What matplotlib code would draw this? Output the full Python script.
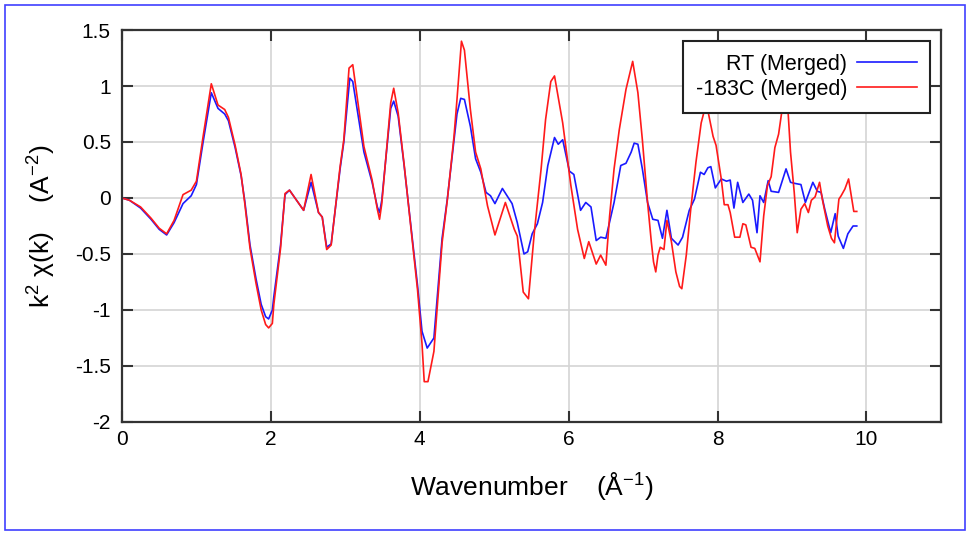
import matplotlib
matplotlib.use("Agg")
import matplotlib.pyplot as plt
from matplotlib.patches import Rectangle

plt.rcParams['font.family'] = ['Liberation Sans', 'DejaVu Sans']
plt.rcParams['mathtext.fontset'] = 'custom'
plt.rcParams['mathtext.rm'] = 'Liberation Sans'
plt.rcParams['mathtext.it'] = 'Liberation Sans'
plt.rcParams['axes.unicode_minus'] = False

# RT (Merged) - blue curve
rt_k = [0.00, 0.10, 0.25, 0.39, 0.50, 0.60, 0.70, 0.82, 0.93, 1.00,
        1.09, 1.20, 1.29, 1.38, 1.43, 1.52, 1.60, 1.65, 1.72, 1.80,
        1.87, 1.93, 1.97, 2.02, 2.04, 2.13, 2.19, 2.25, 2.44, 2.54,
        2.64, 2.69, 2.75, 2.81, 2.93, 2.98, 3.06, 3.10, 3.25, 3.36,
        3.43, 3.46, 3.49, 3.61, 3.65, 3.71, 3.79, 3.90, 3.97, 4.03,
        4.10, 4.19, 4.30, 4.37, 4.46, 4.50, 4.55, 4.60, 4.68, 4.75,
        4.82, 4.89, 4.95, 5.01, 5.11, 5.24, 5.31, 5.40, 5.45, 5.51,
        5.58, 5.65, 5.72, 5.81, 5.86, 5.92, 6.01, 6.07, 6.16, 6.23,
        6.30, 6.37, 6.43, 6.50, 6.61, 6.70, 6.77, 6.84, 6.88, 6.93,
        6.99, 7.06, 7.13, 7.20, 7.26, 7.32, 7.38, 7.47, 7.53, 7.62,
        7.69, 7.77, 7.82, 7.87, 7.91, 7.97, 8.05, 8.12, 8.17, 8.22,
        8.27, 8.34, 8.42, 8.47, 8.53, 8.57, 8.62, 8.68, 8.72, 8.82,
        8.92, 8.98, 9.04, 9.12, 9.18, 9.28, 9.34, 9.39, 9.44, 9.52,
        9.58, 9.62, 9.69, 9.75, 9.82, 9.87]
rt_chi = [0.00, -0.02, -0.09, -0.19, -0.28, -0.33, -0.22, -0.05, 0.02, 0.12,
          0.50, 0.94, 0.80, 0.75, 0.69, 0.45, 0.20, -0.03, -0.42, -0.72,
          -0.95, -1.06, -1.08, -1.00, -0.88, -0.42, 0.03, 0.07, -0.11, 0.14,
          -0.13, -0.17, -0.44, -0.41, 0.26, 0.50, 1.07, 1.04, 0.41, 0.14,
          -0.08, -0.13, -0.02, 0.80, 0.865, 0.73, 0.29, -0.36, -0.78, -1.19,
          -1.34, -1.25, -0.36, -0.01, 0.52, 0.75, 0.89, 0.88, 0.64, 0.35,
          0.23, 0.05, 0.02, -0.05, 0.085, -0.05, -0.22, -0.50, -0.48, -0.32,
          -0.23, -0.04, 0.29, 0.54, 0.48, 0.52, 0.24, 0.21, -0.11, -0.04,
          -0.08, -0.38, -0.35, -0.36, -0.04, 0.29, 0.31, 0.41, 0.49, 0.48,
          0.26, -0.04, -0.19, -0.20, -0.36, -0.11, -0.36, -0.42, -0.35, -0.11,
          -0.01, 0.23, 0.21, 0.27, 0.28, 0.09, 0.17, 0.15, 0.16, -0.09,
          0.14, -0.04, 0.035, -0.02, -0.31, 0.02, -0.04, 0.155, 0.06, 0.05,
          0.26, 0.14, 0.13, 0.12, -0.04, 0.14, 0.06, 0.05, -0.10, -0.31,
          -0.14, -0.34, -0.45, -0.32, -0.25, -0.25]

# -183C (Merged) - red curve
lt_k = [0.00, 0.10, 0.25, 0.39, 0.50, 0.60, 0.70, 0.82, 0.93, 1.00,
        1.09, 1.20, 1.29, 1.38, 1.43, 1.52, 1.60, 1.65, 1.72, 1.80,
        1.87, 1.93, 1.97, 2.02, 2.04, 2.13, 2.19, 2.25, 2.44, 2.54,
        2.64, 2.69, 2.75, 2.81, 2.93, 2.98, 3.05, 3.10, 3.25, 3.36,
        3.43, 3.46, 3.49, 3.61, 3.65, 3.71, 3.79, 3.90, 3.97, 4.03,
        4.06, 4.11, 4.19, 4.30, 4.37, 4.46, 4.50, 4.56, 4.60, 4.68,
        4.75, 4.82, 4.91, 5.01, 5.15, 5.27, 5.31, 5.39, 5.46, 5.54,
        5.63, 5.69, 5.76, 5.81, 5.92, 6.03, 6.12, 6.21, 6.27, 6.37,
        6.43, 6.50, 6.55, 6.61, 6.68, 6.77, 6.86, 6.93, 6.99, 7.06,
        7.11, 7.14, 7.17, 7.20, 7.23, 7.28, 7.32, 7.38, 7.44, 7.49,
        7.52, 7.58, 7.64, 7.71, 7.78, 7.83, 7.87, 7.94, 7.98, 8.05,
        8.09, 8.14, 8.17, 8.23, 8.30, 8.34, 8.38, 8.45, 8.50, 8.57,
        8.62, 8.67, 8.72, 8.77, 8.82, 8.88, 8.90, 8.94, 8.98, 9.03,
        9.07, 9.12, 9.17, 9.22, 9.26, 9.31, 9.37, 9.41, 9.48, 9.53,
        9.57, 9.63, 9.66, 9.71, 9.76, 9.83, 9.87]
lt_chi = [0.00, -0.02, -0.08, -0.18, -0.27, -0.32, -0.20, 0.03, 0.07, 0.15,
          0.55, 1.02, 0.83, 0.79, 0.72, 0.47, 0.21, -0.05, -0.45, -0.76,
          -1.00, -1.13, -1.16, -1.12, -0.95, -0.45, 0.04, 0.07, -0.11, 0.21,
          -0.13, -0.17, -0.46, -0.42, 0.28, 0.52, 1.16, 1.19, 0.46, 0.16,
          -0.10, -0.19, -0.05, 0.85, 0.98, 0.76, 0.30, -0.38, -0.82, -1.30,
          -1.64, -1.64, -1.37, -0.40, -0.02, 0.55, 0.88, 1.40, 1.32, 0.79,
          0.41, 0.26, -0.07, -0.33, -0.04, -0.28, -0.34, -0.84, -0.90, -0.30,
          0.26, 0.70, 1.04, 1.09, 0.67, 0.11, -0.28, -0.54, -0.39, -0.59,
          -0.51, -0.60, -0.16, 0.26, 0.61, 0.97, 1.22, 0.94, 0.52, -0.04,
          -0.39, -0.57, -0.66, -0.51, -0.44, -0.46, -0.20, -0.39, -0.66, -0.79,
          -0.81, -0.51, -0.10, 0.32, 0.67, 0.80, 0.78, 0.55, 0.47, 0.17,
          -0.06, -0.06, -0.13, -0.35, -0.35, -0.23, -0.24, -0.44, -0.45, -0.57,
          -0.16, 0.11, 0.19, 0.45, 0.57, 0.85, 0.87, 0.85, 0.41, 0.05,
          -0.31, -0.10, -0.05, -0.13, -0.02, 0.01, 0.14, -0.02, -0.25, -0.36,
          -0.40, -0.01, 0.02, 0.08, 0.17, -0.12, -0.12]

x_ticks = [0, 2, 4, 6, 8, 10]
y_ticks = [-2, -1.5, -1, -0.5, 0, 0.5, 1, 1.5]
y_tick_labels = ["-2", "-1.5", "-1", "-0.5", "0", "0.5", "1", "1.5"]

fig = plt.figure(figsize=(9.68, 5.33), dpi=100)
ax = fig.add_axes([0.126, 0.2083, 0.846, 0.7354])

ax.plot(rt_k, rt_chi, color='#1a1aff', lw=1.2, label='RT (Merged)')
ax.plot(lt_k, lt_chi, color='#ff1a1a', lw=1.2, label='-183C (Merged)')

ax.set_xlim(0, 11)
ax.set_ylim(-2, 1.5)
ax.set_xticks(x_ticks)
ax.set_yticks(y_ticks)
ax.set_yticklabels(y_tick_labels)
ax.grid(True, color='#d4d4d4', lw=1.2)
ax.set_axisbelow(True)
ax.tick_params(direction='in', length=8, width=1.5, color='#333333',
               top=True, right=True, labelsize=15)
ax.tick_params(axis='y', pad=8)
ax.tick_params(axis='x', pad=6)
for s in ax.spines.values():
    s.set_linewidth(1.6)
    s.set_color('#333333')

ax.set_xlabel("Wavenumber    (Å$^{-1}$)", fontsize=19, labelpad=15)
ax.set_ylabel("k$^2$ χ(k)    (A$^{-2}$)", fontsize=19, labelpad=12)

leg = ax.legend(loc='upper right', markerfirst=False, fontsize=15.5,
                handlelength=2.8, handletextpad=0.45, borderpad=0.6,
                labelspacing=0.2, borderaxespad=0.5, fancybox=False,
                framealpha=1)
leg.get_frame().set_edgecolor('#222222')
leg.get_frame().set_linewidth(1.5)

# thin blue frame around the whole picture
fig.patches.append(Rectangle((5 / 968, 3 / 533), 960 / 968, 525 / 533,
                             transform=fig.transFigure, fill=False,
                             edgecolor='#4040ff', lw=1.2))

fig.savefig("out.png", dpi=100)
